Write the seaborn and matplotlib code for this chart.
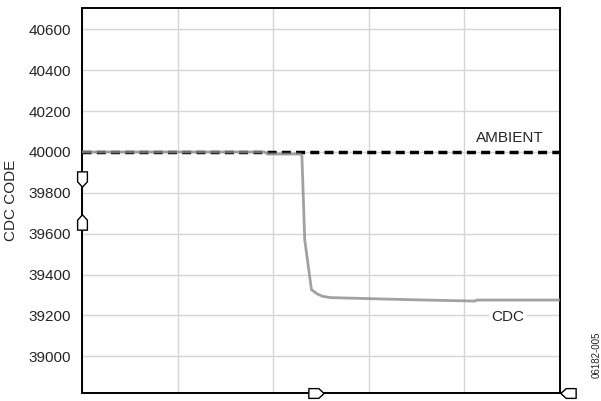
import numpy as np
import pandas as pd
import matplotlib
matplotlib.use('Agg')
import matplotlib.pyplot as plt
from matplotlib.path import Path
import seaborn as sns

# data (x axis has no labels, 5 grid divisions)
time_cdc = [0, 1.91, 1.94, 2.28, 2.30, 2.33, 2.40, 2.46, 2.52, 2.60, 3.0, 3.5, 4.11, 4.13, 5.0]
cdc_code = [40000, 40000, 39990, 39990, 39985, 39570, 39326, 39305, 39293, 39287,
            39282, 39276, 39270, 39275, 39275]
time_amb = [0, 5]
ambient_code = [40000, 40000]
y_ticks = [39000, 39200, 39400, 39600, 39800, 40000, 40200, 40400, 40600]
x_grid = [0, 1, 2, 3, 4, 5]

sns.set_style('white')
plt.rcParams['font.family'] = ['Liberation Sans', 'DejaVu Sans']

fig = plt.figure(figsize=(6.01, 4.01), dpi=100)
ax = fig.add_axes([0.1364, 0.02, 0.7954, 0.959])

df_amb = pd.DataFrame({'t': time_amb, 'code': ambient_code})
df_cdc = pd.DataFrame({'t': time_cdc, 'code': cdc_code})

sns.lineplot(data=df_amb, x='t', y='code', ax=ax, color='black', lw=2.5,
             linestyle=(0, (2.6, 1.5)), zorder=3)
sns.lineplot(data=df_cdc, x='t', y='code', ax=ax, color='#8a8a8a', lw=2.0,
             alpha=0.8, zorder=4)

ax.set_xlim(0, 5)
ax.set_ylim(38820, 40703)
ax.set_xticks(x_grid)
ax.set_xticklabels([])
ax.set_yticks(y_ticks)
ax.set_yticklabels([str(v) for v in y_ticks], fontsize=11)
ax.tick_params(axis='both', length=0, pad=8)
ax.grid(True, color='#d6d6d6', lw=1.0)
ax.set_axisbelow(True)
for s in ax.spines.values():
    s.set_color('black')
    s.set_linewidth(1.4)

ax.set_xlabel('')
ax.set_ylabel('CDC CODE', fontsize=11)
ax.yaxis.set_label_coords(-0.133, 0.5)

ax.text(0.895, 0.664, 'AMBIENT', transform=ax.transAxes, ha='center', va='center',
        fontsize=11)
ax.text(0.891, 0.198, 'CDC', transform=ax.transAxes, ha='center', va='center',
        fontsize=11, bbox=dict(facecolor='white', edgecolor='none', pad=2))
fig.text(0.993, 0.115, '06182-005', rotation=90, ha='center', va='center', fontsize=7)

# axis break style markers on the spines
down = Path([(-0.32, 0.5), (0.32, 0.5), (0.32, -0.15), (0, -0.5), (-0.32, -0.15), (-0.32, 0.5)],
            [1, 2, 2, 2, 2, 79])
up = Path([(-0.32, -0.5), (0.32, -0.5), (0.32, 0.15), (0, 0.5), (-0.32, 0.15), (-0.32, -0.5)],
          [1, 2, 2, 2, 2, 79])
right = Path([(-0.5, 0.32), (-0.5, -0.32), (0.15, -0.32), (0.5, 0), (0.15, 0.32), (-0.5, 0.32)],
             [1, 2, 2, 2, 2, 79])
left = Path([(0.5, 0.32), (0.5, -0.32), (-0.15, -0.32), (-0.5, 0), (-0.15, 0.32), (0.5, 0.32)],
            [1, 2, 2, 2, 2, 79])
for (px, py), mk in [((0, 0.557), down), ((0, 0.444), up), ((0.49, 0), right), ((1.017, 0), left)]:
    ax.plot([px], [py], marker=mk, markersize=11, markerfacecolor='white',
            markeredgecolor='black', markeredgewidth=1.0, transform=ax.transAxes,
            clip_on=False, zorder=10, linestyle='none')

fig.savefig('out.png', dpi=100)
